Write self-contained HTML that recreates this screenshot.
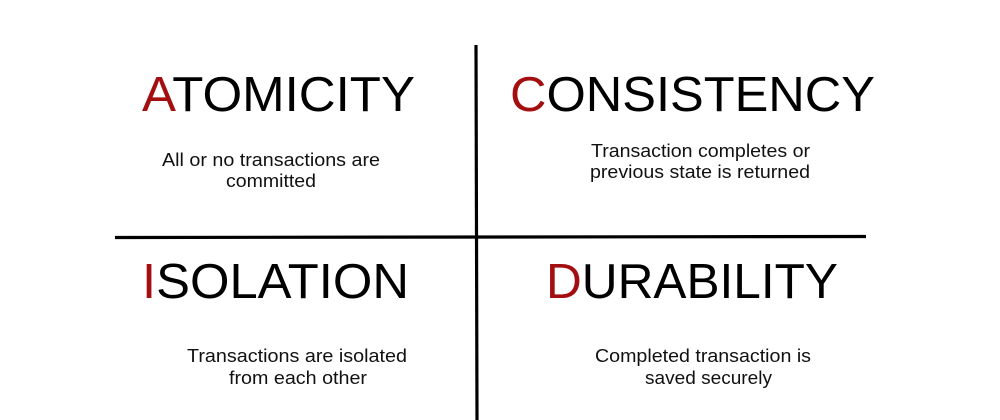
<!DOCTYPE html>
<html><head><style>html,body{margin:0;padding:0;background:#fff}</style></head>
<body>
<svg width="1000" height="420" xmlns="http://www.w3.org/2000/svg" style="display:block;font-family:'Liberation Sans',Arial,sans-serif">
<rect width="1000" height="420" fill="#fff"/>
<line x1="476" y1="45" x2="477" y2="420" stroke="#000" stroke-width="3.2"/>
<line x1="115" y1="237.5" x2="866" y2="236.5" stroke="#000" stroke-width="3.2"/>
<g font-size="49" fill="#000">
<text x="142" y="111" textLength="273" lengthAdjust="spacingAndGlyphs"><tspan fill="#a30f10">A</tspan>TOMICITY</text>
<text x="510" y="111" textLength="365" lengthAdjust="spacingAndGlyphs"><tspan fill="#a30f10">C</tspan>ONSISTENCY</text>
<text x="142" y="298" textLength="267" lengthAdjust="spacingAndGlyphs"><tspan fill="#a30f10">I</tspan>SOLATION</text>
<text x="546" y="298" textLength="292" lengthAdjust="spacingAndGlyphs"><tspan fill="#a30f10">D</tspan>URABILITY</text>
</g>
<g font-size="18.5" fill="#111">
<text x="162" y="166" textLength="218" lengthAdjust="spacingAndGlyphs">All or no transactions are</text>
<text x="226" y="187" textLength="90" lengthAdjust="spacingAndGlyphs">committed</text>
<text x="591" y="157" textLength="219" lengthAdjust="spacingAndGlyphs">Transaction completes or</text>
<text x="590" y="178" textLength="220" lengthAdjust="spacingAndGlyphs">previous state is returned</text>
<text x="187" y="362" textLength="220" lengthAdjust="spacingAndGlyphs">Transactions are isolated</text>
<text x="229" y="384" textLength="138" lengthAdjust="spacingAndGlyphs">from each other</text>
<text x="595" y="362" textLength="216" lengthAdjust="spacingAndGlyphs">Completed transaction is</text>
<text x="645" y="384" textLength="127" lengthAdjust="spacingAndGlyphs">saved securely</text>
</g>
</svg>
</body></html>
